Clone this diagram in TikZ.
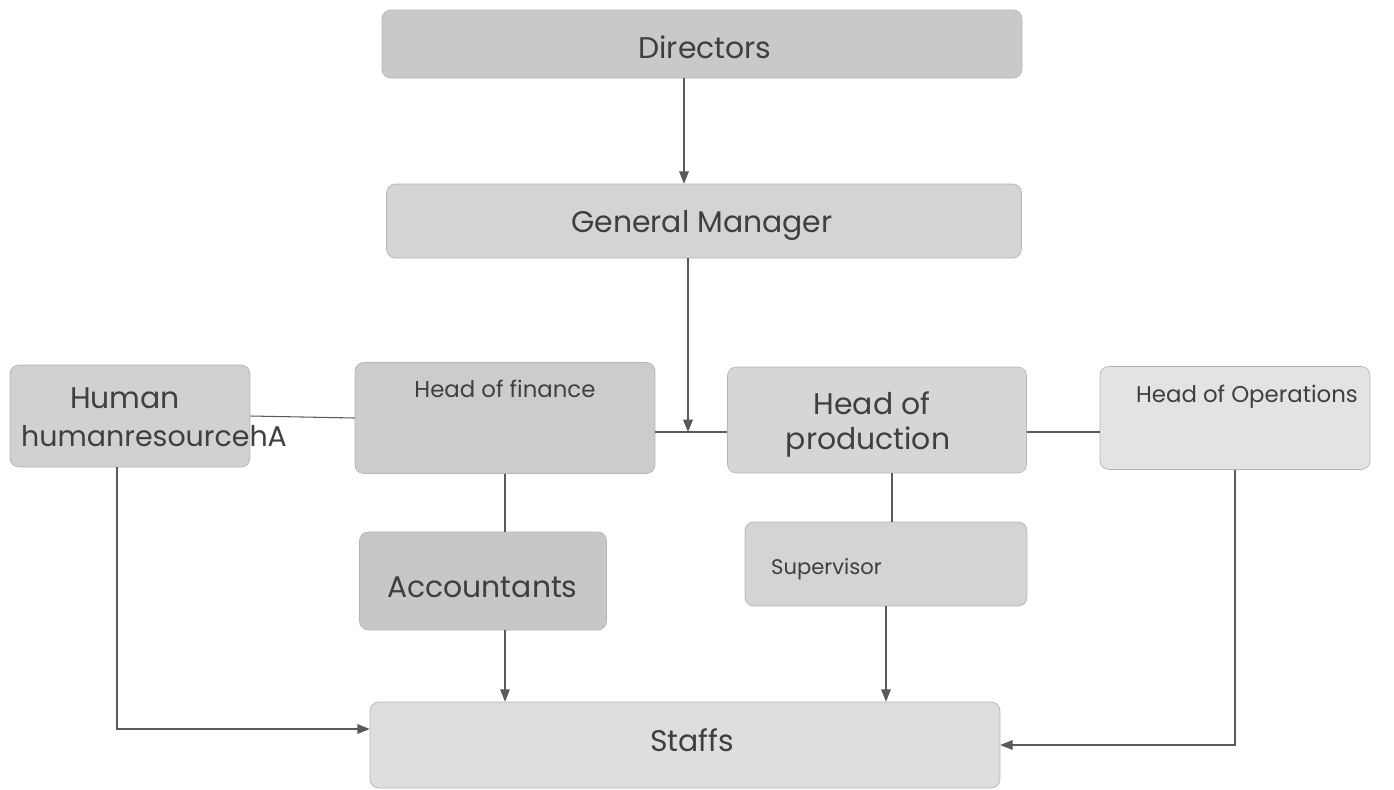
\documentclass[tikz,border=0pt]{standalone}
\usepackage{fontspec}
\setmainfont{Poppins}
\usepackage{tikz}
\usetikzlibrary{arrows.meta,positioning}

\definecolor{boxline}{HTML}{B4B4B4}
\definecolor{txt}{HTML}{3F3F3F}
\definecolor{conn}{HTML}{5A5A5A}

\tikzset{
  box/.style={draw=boxline, line width=0.4pt, rounded corners=5pt, inner sep=0pt},
  big/.style={text=txt, font=\fontsize{17}{20}\selectfont},
  small/.style={text=txt, font=\fontsize{13}{16}\selectfont},
  arr/.style={conn, line width=0.6pt, -{Triangle[length=7pt,width=5.5pt]}},
  ln/.style={conn, line width=0.6pt}
}

\begin{document}
\begin{tikzpicture}[x=0.02cm, y=-0.02cm]
		\useasboundingbox (0,0) rectangle (1394,789);

		\node[box, fill=black!21, minimum width=12.8cm, minimum height=1.36cm] (dir) at (702,44) {};
		\node[box, fill=black!17, minimum width=12.7cm, minimum height=1.48cm] (gm) at (704,221) {};
		\node[box, fill=black!18, minimum width=4.8cm, minimum height=2.04cm] (hr) at (130,416) {};
		\node[box, fill=black!20, minimum width=6.0cm, minimum height=2.22cm] (fin) at (505,418) {};
		\node[box, fill=black!16, minimum width=5.98cm, minimum height=2.12cm] (prod) at (877,420) {};
		\node[box, fill=black!11, minimum width=5.4cm, minimum height=2.06cm] (ops) at (1235,418) {};
		\node[box, fill=black!22, minimum width=4.94cm, minimum height=1.96cm] (acc) at (483,581) {};
		\node[box, fill=black!17, minimum width=5.64cm, minimum height=1.68cm] (sup) at (886,564) {};
		\node[box, fill=black!13, minimum width=12.6cm, minimum height=1.72cm] (stf) at (685,745) {};

		\node[big] (dirT) at (705,47) {Directors};
		\node[big] (gmT) at (702,225) {General Manager};
		\node[big] (hrT1) at (125,398) {Human};
		\node[big, anchor=west, font=\fontsize{16.2}{19}\selectfont] (hrT2) at (15,436) {humanresourcehA};
		\node[small] (finT) at (505,389) {Head of finance};
		\node[big] (prodT1) at (872,403) {Head of};
		\node[big] (prodT2) at (868,442) {production};
		\node[small] (opsT) at (1247,397) {Head of Operations};
		\node[big, anchor=west] (accT) at (381,587) {Accountants};
		\node[small, anchor=west, font=\fontsize{12}{14}\selectfont] (supT) at (765,569) {Supervisor};
		\node[big] (stfT) at (692,740) {Staffs};

		\coordinate (j) at (688,432);

		\draw [arr] ([xshift=-0.36cm]dir.south) -- ([xshift=-0.36cm]dir.south |- gm.north);
		\draw [arr] (gm.south -| j) -- (j);
		\draw [ln] (fin.east |- j) -- (prod.west |- j);
		\draw [ln] (hr.east) -- (fin.west);
		\draw [ln] (prod.east |- j) -- (ops.west |- j);
		\draw [ln] (fin.south) -- (fin.south |- acc.north);
		\draw [ln] ([xshift=0.3cm]prod.south) -- ([xshift=0.3cm]prod.south |- sup.north);
		\draw [arr] (acc.south -| fin.south) -- (stf.north -| fin.south);
		\draw [arr] (sup.south) -- (sup.south |- stf.north);
		\draw [arr] ([xshift=-0.26cm]hr.south) |- ([yshift=0.32cm]stf.west);
		\draw [arr] (ops.south) |- (stf.east);
	\end{tikzpicture}
\end{document}
